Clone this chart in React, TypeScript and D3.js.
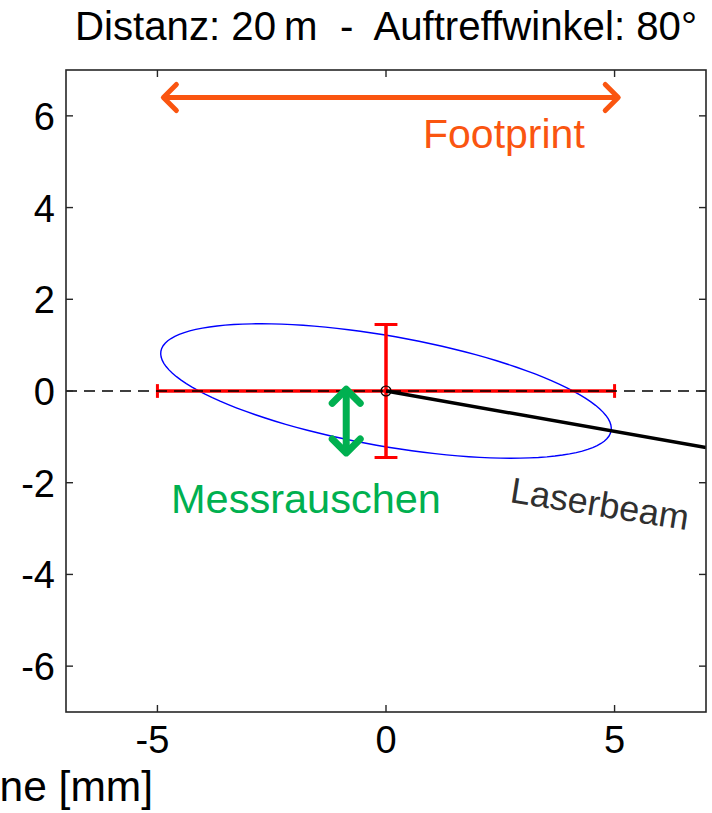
import React from "react";
import * as d3 from "d3";

// Plot geometry (mm)
const xDomain = [-7, 7];
const yDomain = [-7, 7];
const xTicks = [-5, 0, 5];
const yTicks = [-6, -4, -2, 0, 2, 4, 6];

// Footprint ellipse: semi-axes (mm) and tilt (deg)
const ellipseAxes = [5, 1.2];
const ellipseTilt = [-10];

// Error bars: horizontal half-width (footprint), vertical half-height (noise)
const footprintHalfWidth = [5];
const noiseHalfHeight = [1.45];

// Laser beam from origin to the right border
const beamX = [0, 7];
const beamY = [0, -1.234];

// Annotation arrows (mm)
const footprintArrowX = [-4.87, 5.08];
const footprintArrowY = [6.4];
const noiseArrowX = [-0.87];
const noiseArrowY = [0.04, -1.35];

const title = "Distanz: 20\u2009m  -  Auftreffwinkel: 80°";
const xLabel = "Abstand zur Ebene [mm]";

const W = 712;
const H = 813;
const FONT = "'Liberation Sans', Arial, Helvetica, sans-serif";

export default function App() {
  const x = d3.scaleLinear().domain(xDomain).range([66, 706]);
  const y = d3.scaleLinear().domain(yDomain).range([712, 70]);

  const [a, b] = ellipseAxes;
  const th = (ellipseTilt[0] * Math.PI) / 180;
  const ellipsePts: [number, number][] = d3.range(0, 361, 3).map((deg) => {
    const t = (deg * Math.PI) / 180;
    const ex = a * Math.cos(t) * Math.cos(th) - b * Math.sin(t) * Math.sin(th);
    const ey = a * Math.cos(t) * Math.sin(th) + b * Math.sin(t) * Math.cos(th);
    return [ex, ey];
  });
  const line = d3
    .line<[number, number]>()
    .x((d) => x(d[0]))
    .y((d) => y(d[1]));

  const fw = footprintHalfWidth[0];
  const nh = noiseHalfHeight[0];
  const red = "#ff0000";
  const orange = "#fa5510";
  const green = "#00b050";

  const ax0 = x(footprintArrowX[0]);
  const ax1 = x(footprintArrowX[1]);
  const ay = y(footprintArrowY[0]);
  const gx = x(noiseArrowX[0]);
  const gy0 = y(noiseArrowY[0]);
  const gy1 = y(noiseArrowY[1]);

  const beamAngle =
    (Math.atan2(y(beamY[1]) - y(beamY[0]), x(beamX[1]) - x(beamX[0])) * 180) / Math.PI;

  return (
    <svg
      width={W}
      height={H}
      style={{ position: "absolute", left: 0, top: 0, background: "#fff" }}
      fontFamily={FONT}
    >
      <defs>
        <clipPath id="plotArea">
          <rect x={66} y={70} width={640} height={642} />
        </clipPath>
      </defs>

      {/* title */}
      <text
        x={75}
        y={40}
        fontSize={40}
        fill="#000"
        style={{ whiteSpace: "pre" }}
        textLength={622}
        lengthAdjust="spacingAndGlyphs"
      >
        {title}
      </text>

      <g clipPath="url(#plotArea)">
        {/* footprint ellipse */}
        <path d={line(ellipsePts) ?? ""} fill="none" stroke="#0000ff" strokeWidth={1.4} />

        {/* horizontal error bar */}
        <line x1={x(-fw)} x2={x(fw)} y1={y(0)} y2={y(0)} stroke={red} strokeWidth={3.5} />
        <line x1={x(-fw)} x2={x(-fw)} y1={y(0.15)} y2={y(-0.15)} stroke={red} strokeWidth={3} />
        <line x1={x(fw)} x2={x(fw)} y1={y(0.15)} y2={y(-0.15)} stroke={red} strokeWidth={3} />

        {/* vertical error bar */}
        <line x1={x(0)} x2={x(0)} y1={y(nh)} y2={y(-nh)} stroke={red} strokeWidth={3.5} />
        <line x1={x(-0.25)} x2={x(0.25)} y1={y(nh)} y2={y(nh)} stroke={red} strokeWidth={3} />
        <line x1={x(-0.25)} x2={x(0.25)} y1={y(-nh)} y2={y(-nh)} stroke={red} strokeWidth={3} />

        {/* zero line */}
        <line
          x1={x(xDomain[0])}
          x2={x(xDomain[1])}
          y1={y(0)}
          y2={y(0)}
          stroke="#000"
          strokeWidth={1.3}
          strokeDasharray="11,7"
        />

        {/* laser beam */}
        <line
          x1={x(beamX[0])}
          y1={y(beamY[0])}
          x2={x(beamX[1])}
          y2={y(beamY[1])}
          stroke="#000"
          strokeWidth={3.5}
        />
        <circle cx={x(0)} cy={y(0)} r={5} fill="none" stroke="#000" strokeWidth={1.2} />
      </g>

      {/* axes box */}
      <rect x={66} y={70} width={640} height={642} fill="none" stroke="#262626" strokeWidth={1.6} />
      {xTicks.map((t) => (
        <g key={"xt" + t}>
          <line x1={x(t)} x2={x(t)} y1={712} y2={705} stroke="#262626" strokeWidth={1.4} />
          <line x1={x(t)} x2={x(t)} y1={70} y2={77} stroke="#262626" strokeWidth={1.4} />
          <text x={x(t) - (t < 0 ? 5 : 0)} y={753} fontSize={38} textAnchor="middle" fill="#000">
            {t < 0 ? "-" + Math.abs(t) : t}
          </text>
        </g>
      ))}
      {yTicks.map((t) => (
        <g key={"yt" + t}>
          <line x1={66} x2={73} y1={y(t)} y2={y(t)} stroke="#262626" strokeWidth={1.4} />
          <line x1={706} x2={699} y1={y(t)} y2={y(t)} stroke="#262626" strokeWidth={1.4} />
          <text x={55} y={y(t) + 14} fontSize={38} textAnchor="end" fill="#000">
            {t < 0 ? "-" + Math.abs(t) : t}
          </text>
        </g>
      ))}

      {/* x axis label */}
      <text x={153} y={801} fontSize={42.5} textAnchor="end" fill="#000">
        {xLabel}
      </text>

      {/* footprint arrow */}
      <g stroke={orange} strokeWidth={5} strokeLinecap="round" strokeLinejoin="round" fill="none">
        <line x1={ax0 + 2} x2={ax1 - 2} y1={ay} y2={ay} />
        <polyline points={`${ax0 + 13},${ay - 13} ${ax0},${ay} ${ax0 + 13},${ay + 13}`} />
        <polyline points={`${ax1 - 13},${ay - 13} ${ax1},${ay} ${ax1 - 13},${ay + 13}`} />
      </g>
      <text x={423} y={148} fontSize={41} fill={orange}>
        Footprint
      </text>

      {/* noise arrow */}
      <g stroke={green} strokeWidth={7} strokeLinecap="round" strokeLinejoin="round" fill="none">
        <line x1={gx} x2={gx} y1={gy0 + 3} y2={gy1 - 3} />
        <polyline points={`${gx - 14},${gy0 + 14} ${gx},${gy0} ${gx + 14},${gy0 + 14}`} />
        <polyline points={`${gx - 14},${gy1 - 14} ${gx},${gy1} ${gx + 14},${gy1 - 14}`} />
      </g>
      <text x={171} y={513} fontSize={41.5} fill={green}>
        Messrauschen
      </text>

      {/* beam label */}
      <text
        x={509}
        y={502}
        fontSize={36}
        fill="#303030"
        transform={`rotate(${beamAngle * 0.9}, 509, 502)`}
      >
        Laserbeam
      </text>
    </svg>
  );
}
